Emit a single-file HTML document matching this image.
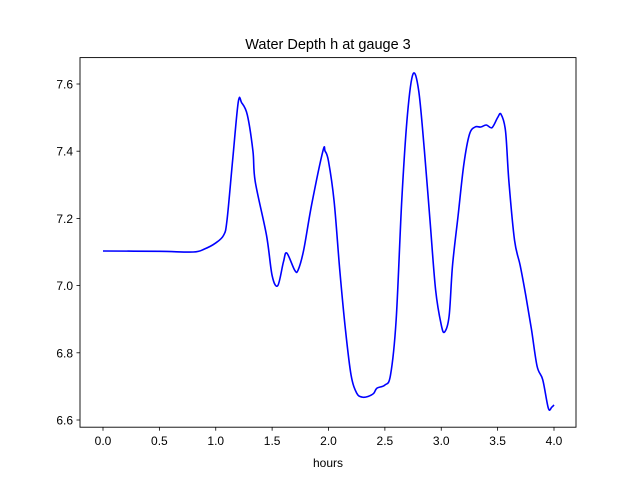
<!DOCTYPE html>
<html><head><meta charset="utf-8"><style>
body{margin:0;background:#fff;}
svg{display:block;font-family:"Liberation Sans","DejaVu Sans",sans-serif;}
</style></head><body>
<svg id="chart" width="640" height="480">
<rect x="0" y="0" width="640" height="480" fill="#fff"/>
<text x="328" y="49" font-size="14.5" text-anchor="middle">Water Depth h at gauge 3</text>
<g id="plot"></g>
<rect x="80" y="57.6" width="496" height="369.6" fill="none" stroke="#000" stroke-width="0.9"/>
<text x="328" y="467" font-size="12" text-anchor="middle">hours</text>
</svg>
<script>
const hours=[0,0.5,0.8,0.9,1.0,1.07,1.1,1.15,1.2,1.23,1.28,1.33,1.35,1.45,1.5,1.55,1.6,1.63,1.7,1.73,1.78,1.85,1.95,1.97,2.0,2.05,2.1,2.15,2.2,2.25,2.3,2.35,2.4,2.43,2.5,2.55,2.6,2.65,2.7,2.75,2.8,2.85,2.9,2.95,3.0,3.03,3.07,3.1,3.15,3.2,3.25,3.3,3.35,3.4,3.45,3.5,3.53,3.57,3.6,3.65,3.7,3.75,3.8,3.85,3.9,3.95,3.98,4.0];
const depth=[7.103,7.102,7.10,7.109,7.127,7.15,7.195,7.374,7.547,7.544,7.508,7.40,7.31,7.15,7.03,7.0,7.07,7.097,7.046,7.046,7.106,7.24,7.40,7.40,7.37,7.25,7.046,6.87,6.734,6.68,6.668,6.67,6.679,6.695,6.704,6.734,6.898,7.255,7.508,7.63,7.58,7.404,7.195,6.987,6.883,6.862,6.91,7.06,7.21,7.36,7.45,7.472,7.472,7.478,7.47,7.50,7.51,7.46,7.31,7.135,7.06,6.97,6.87,6.76,6.72,6.635,6.638,6.645];
const xTicks=[0,0.5,1.0,1.5,2.0,2.5,3.0,3.5,4.0];
const xTickLabels=["0.0","0.5","1.0","1.5","2.0","2.5","3.0","3.5","4.0"];
const yTicks=[6.6,6.8,7.0,7.2,7.4,7.6];
const yTickLabels=["6.6","6.8","7.0","7.2","7.4","7.6"];
const NS="http://www.w3.org/2000/svg";
const sx=v=>103+v*112.75;
const sy=v=>84+(7.6-v)*336;
const g=document.getElementById('plot');
function mk(t,a){const e=document.createElementNS(NS,t);for(const k in a)e.setAttribute(k,a[k]);g.appendChild(e);return e;}
xTicks.forEach((v,i)=>{
 const l=mk('line',{x1:sx(v),x2:sx(v),y1:427.2,y2:430.7,stroke:'#000','stroke-width':0.8});
 
 
 const t=mk('text',{x:sx(v),y:445,'font-size':12,'text-anchor':'middle'});
 t.textContent=xTickLabels[i];
 
 
});
yTicks.forEach((v,i)=>{
 const l=mk('line',{x1:76.5,x2:80,y1:sy(v),y2:sy(v),stroke:'#000','stroke-width':0.8});
 
 
 const t=mk('text',{x:73,y:sy(v)+4.5,'font-size':12,'text-anchor':'end'});
 t.textContent=yTickLabels[i];
 
 
});
const pts=hours.map((h,i)=>[sx(h),sy(depth[i])]);
let d='M'+pts[0][0]+','+pts[0][1];
for(let i=0;i<pts.length-1;i++){
 const p0=pts[Math.max(0,i-1)],p1=pts[i],p2=pts[i+1],p3=pts[Math.min(pts.length-1,i+2)];
 const c1x=p1[0]+(p2[0]-p0[0])/6,c1y=p1[1]+(p2[1]-p0[1])/6;
 const c2x=p2[0]-(p3[0]-p1[0])/6,c2y=p2[1]-(p3[1]-p1[1])/6;
 d+=`C${c1x},${c1y} ${c2x},${c2y} ${p2[0]},${p2[1]}`;
}
const path=mk('path',{d:d,fill:'none',stroke:'#0000ff','stroke-width':1.6});


</script>
</body></html>
